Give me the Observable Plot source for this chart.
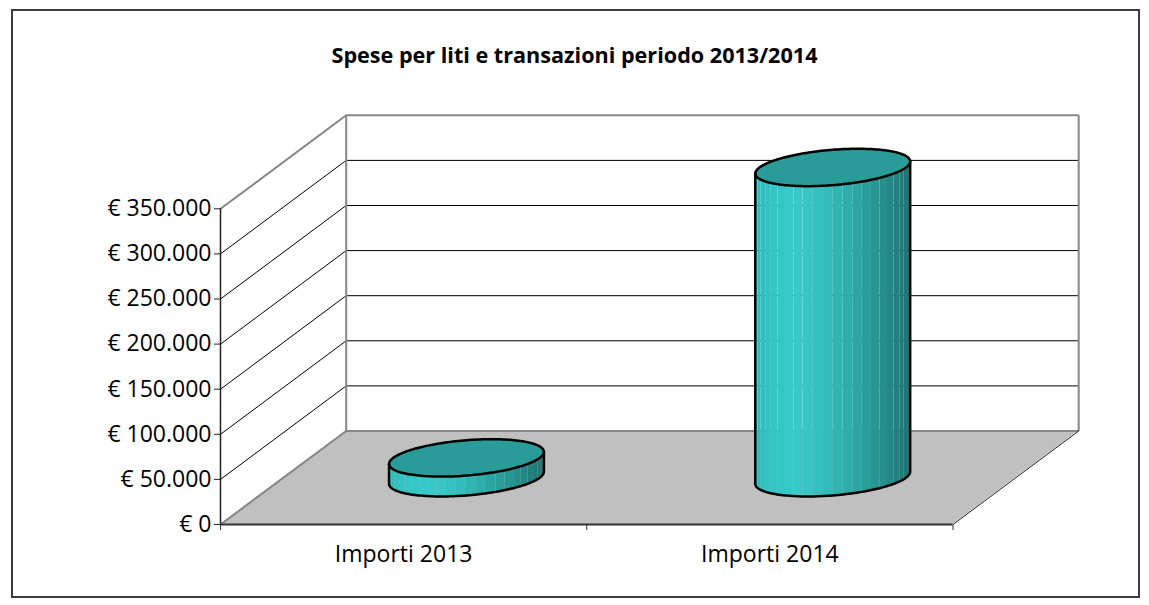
<!DOCTYPE html>
<html>
<head>
<meta charset="utf-8">
<script src="https://cdn.jsdelivr.net/npm/d3@7"></script>
<script src="https://cdn.jsdelivr.net/npm/@observablehq/plot@0.6"></script>
<style>
  body { margin: 0; background: #fff; }
  #wrap { position: relative; width: 1149px; height: 605px; background: #fff; overflow: hidden; }
  #border { position: absolute; left: 11px; top: 9px; width: 1129px; height: 589px; border: 2px solid #3c3c3c; box-sizing: border-box; }
  #title { position: absolute; left: 0; top: 40px; width: 1149px; text-align: center; font: bold 21.6px/30px "Open Sans", sans-serif; color: #000; }
  #wrap svg { position: absolute; left: 0; top: 0; }
</style>
</head>
<body>
<div id="wrap">
  <div id="border"></div>
  <div id="title"></div>
</div>
<script>
// ---- data ----
const title = "Spese per liti e transazioni periodo 2013/2014";
const categories = ["Importi 2013", "Importi 2014"];
const values = [22000, 344000];
const yTicks = [0, 50000, 100000, 150000, 200000, 250000, 300000, 350000];

document.getElementById("title").textContent = title;

// ---- oblique 3D projection constants ----
const YMAX = yTicks[yTicks.length - 1];
const NCAT = categories.length;
const DX = 125.7 / 366.25;            // depth -> x units
const DY = 93.5 * YMAX / 315.7;       // depth -> value units
const R = 0.2;                         // cylinder radius (category / depth units)
const tR = Math.atan(DX);
const gridValues = yTicks.slice(1, -1);
const fmt = d => "€ " + d3.format(",")(d).replace(/,/g, ".");

function P(cx, t, base) {
  const d = 0.5 + R * Math.sin(t);
  return {x: cx + R * Math.cos(t) + d * DX, y: base + d * DY};
}
const shade = d3.interpolateRgbBasis(["#2ebcbc", "#3ad0d0", "#31bab7", "#289c99", "#1f7471"]);

const strips = [], tops = [], ellipses = [], outlines = [];
values.forEach((v, i) => {
  const cx = i + 0.5;
  const N = 24;
  for (let k = 0; k < N; k++) {
    const f0 = k * Math.PI / N, f1 = (k + 1) * Math.PI / N;
    const fm = (f0 + f1) / 2;
    const col = shade((1 + Math.cos(fm)) / 2);
    for (const f of [f0, f1]) {
      const b = P(cx, tR - f, 0), t = P(cx, tR - f, v);
      strips.push({x: b.x, y1: b.y, y2: t.y, z: i + "-" + k, fill: col});
    }
  }
  const M = 90;
  for (let k = 0; k <= M; k++) {
    const f = k * Math.PI / M;
    const fr = P(cx, tR - f, v), bk = P(cx, tR + f, v);
    tops.push({x: fr.x, y1: fr.y, y2: bk.y, z: i});
  }
  for (let k = 0; k <= 2 * M; k++) {
    const p = P(cx, tR + k * Math.PI / M, v);
    ellipses.push({x: p.x, y: p.y, z: i});
  }
  const tl = P(cx, tR - Math.PI, v);
  outlines.push({x: tl.x, y: tl.y, z: i});
  for (let k = M; k >= 0; k--) {
    const p = P(cx, tR - k * Math.PI / M, 0);
    outlines.push({x: p.x, y: p.y, z: i});
  }
  const tr = P(cx, tR, v);
  outlines.push({x: tr.x, y: tr.y, z: i});
});

const floor = [
  {x: 0, y1: 0, y2: 0},
  {x: DX, y1: 0, y2: DY},
  {x: NCAT, y1: 0, y2: DY},
  {x: NCAT + DX, y1: DY, y2: DY}
];
const greyEdges = [
  [0, 0, DX, DY],
  [DX, DY, NCAT + DX, DY],
  [DX, DY, DX, YMAX + DY],
  [DX, YMAX + DY, NCAT + DX, YMAX + DY],
  [NCAT + DX, DY, NCAT + DX, YMAX + DY],
  [0, YMAX, DX, YMAX + DY]
];

const chart = Plot.plot({
  width: 1149,
  height: 605,
  marginLeft: 220,
  marginRight: 196.5,
  marginTop: 208.3,
  marginBottom: 81,
  x: {type: "linear", domain: [0, NCAT], axis: null},
  y: {type: "linear", domain: [0, YMAX], axis: null},
  color: {type: "identity"},
  style: {fontFamily: "'Open Sans', sans-serif", fontSize: "23px", color: "#000", background: "transparent", overflow: "visible"},
  marks: [
    Plot.areaY(floor, {x: "x", y1: "y1", y2: "y2", fill: "#c0c0c0"}),
    Plot.link(gridValues, {x1: () => 0, y1: d => d, x2: () => DX, y2: d => d + DY, stroke: "#000", strokeWidth: 1}),
    Plot.link(gridValues, {x1: () => DX, y1: d => d + DY, x2: () => NCAT + DX, y2: d => d + DY, stroke: "#000", strokeWidth: 1}),
    Plot.link(greyEdges, {x1: d => d[0], y1: d => d[1], x2: d => d[2], y2: d => d[3], stroke: "#868686", strokeWidth: 2}),
    Plot.link([[NCAT, 0, NCAT + DX, DY]], {x1: d => d[0], y1: d => d[1], x2: d => d[2], y2: d => d[3], stroke: "#222", strokeWidth: 1}),
    Plot.ruleY([0], {stroke: "#333", strokeWidth: 2}),
    Plot.ruleX([0], {stroke: "#222", strokeWidth: 1.5}),
    Plot.axisY(yTicks, {anchor: "left", tickSize: 6, tickPadding: 3, tickFormat: fmt, stroke: "#222", fill: "#000", label: null}),
    Plot.axisX(d3.range(NCAT + 1), {anchor: "bottom", tickSize: 6, tickFormat: () => "", stroke: "#333", label: null}),
    Plot.axisX(categories.map((c, i) => i + 0.5), {anchor: "bottom", tickSize: 0, tickPadding: 21, tickFormat: d => categories[Math.floor(d)], fill: "#000", label: null}),
    Plot.areaY(strips, {x: "x", y1: "y1", y2: "y2", z: "z", fill: "fill"}),
    Plot.areaY(tops, {x: "x", y1: "y1", y2: "y2", z: "z", fill: "#299c99"}),
    Plot.line(outlines, {x: "x", y: "y", z: "z", stroke: "#000", strokeWidth: 2.5, strokeLinejoin: "round"}),
    Plot.line(ellipses, {x: "x", y: "y", z: "z", stroke: "#000", strokeWidth: 2.5, strokeLinejoin: "round"})
  ]
});
document.getElementById("wrap").appendChild(chart);
</script>
</body>
</html>
